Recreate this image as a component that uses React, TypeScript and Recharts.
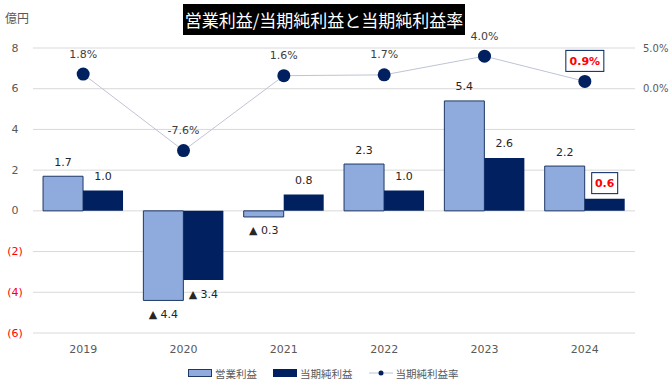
import React from "react";
import {
  ComposedChart,
  Bar,
  Line,
  XAxis,
  YAxis,
  CartesianGrid,
  LabelList,
} from "recharts";

const years = ["2019", "2020", "2021", "2022", "2023", "2024"];
const operatingProfit = [1.7, -4.4, -0.3, 2.3, 5.4, 2.2];
const netProfit = [1.0, -3.4, 0.8, 1.0, 2.6, 0.6];
const netMargin = [1.8, -7.6, 1.6, 1.7, 4.0, 0.9];
const leftTicks = [-6, -4, -2, 0, 2, 4, 6, 8];
const rightTicks = [0, 5];
const highlightYear = "2024";

const data = years.map((y, i) => ({
  year: y,
  op: operatingProfit[i],
  net: netProfit[i],
  rate: netMargin[i],
}));

const NUM_FONT = "'DejaVu Sans', Verdana, sans-serif";
const JP_FONT = "'Noto Sans CJK JP', 'Noto Sans', sans-serif";
const LIGHT = "#8FAADC";
const DARK = "#002060";
const GRAY = "#595959";

// 棒グラフのラベル（マイナスは▲表記で下側）
function barLabel(highlight: boolean) {
  return (props: any) => {
    const { x, y, width, height, value, index } = props;
    const top = Math.min(y, y + height);
    const bottom = Math.max(y, y + height);
    const cx = x + width / 2;
    if (value < 0) {
      return (
        <text x={cx} y={bottom + 14} textAnchor="middle" dominantBaseline="central"
          fontFamily={NUM_FONT} fontSize={11} fill="#262626">
          {`▲ ${Math.abs(value).toFixed(1)}`}
        </text>
      );
    }
    if (highlight && data[index].year === highlightYear) {
      return (
        <g>
          <rect x={cx - 13} y={top - 26} width={26} height={21} fill="#fff" stroke={DARK} strokeWidth={1} />
          <text x={cx} y={top - 15.5} textAnchor="middle" dominantBaseline="central"
            fontFamily={NUM_FONT} fontSize={11} fontWeight="bold" fill="#FF0000">
            {value.toFixed(1)}
          </text>
        </g>
      );
    }
    return (
      <text x={cx} y={top - 14} textAnchor="middle" dominantBaseline="central"
        fontFamily={NUM_FONT} fontSize={11} fill="#262626">
        {value.toFixed(1)}
      </text>
    );
  };
}

function rateLabel(props: any) {
  const { x, y, value, index } = props;
  if (data[index].year === highlightYear) {
    return (
      <g>
        <rect x={x - 19} y={y - 31} width={38} height={21} fill="#fff" stroke={DARK} strokeWidth={1} />
        <text x={x} y={y - 20} textAnchor="middle" dominantBaseline="central"
          fontFamily={NUM_FONT} fontSize={11} fontWeight="bold" fill="#FF0000">
          {`${value.toFixed(1)}%`}
        </text>
      </g>
    );
  }
  return (
    <text x={x} y={y - 20} textAnchor="middle" dominantBaseline="central"
      fontFamily={NUM_FONT} fontSize={11} fill="#404040">
      {`${value.toFixed(1)}%`}
    </text>
  );
}

function LeftTick(props: any) {
  const { y, payload } = props;
  const v = payload.value as number;
  return (
    <text x={15} y={y} textAnchor="middle" dominantBaseline="central"
      fontFamily={NUM_FONT} fontSize={11} fill={v < 0 ? "#FF0000" : GRAY}>
      {v < 0 ? `(${Math.abs(v)})` : `${v}`}
    </text>
  );
}

export default function App() {
  return (
    <div style={{ position: "relative", width: 672, height: 388, background: "#fff" }}>
      <style>{"body{margin:0}"}</style>
      <ComposedChart
        width={672}
        height={388}
        data={data}
        margin={{ top: 48, right: 0, left: 0, bottom: 25 }}
        barCategoryGap="10%"
        barGap={0}
      >
        <CartesianGrid yAxisId="left" vertical={false} stroke="#D9D9D9" />
        <XAxis
          dataKey="year"
          height={30}
          axisLine={false}
          tickLine={false}
          tickMargin={6}
          tick={{ fill: GRAY, fontSize: 11, fontFamily: NUM_FONT }}
        />
        <YAxis
          yAxisId="left"
          width={33}
          domain={[-6, 8]}
          ticks={leftTicks}
          axisLine={false}
          tickLine={false}
          tick={<LeftTick />}
          interval={0}
        />
        <YAxis
          yAxisId="right"
          orientation="right"
          width={37}
          domain={[-30, 5]}
          ticks={rightTicks}
          axisLine={false}
          tickLine={false}
          tickFormatter={(v: number) => `${v.toFixed(1)}%`}
          tick={{ fill: GRAY, fontSize: 10, fontFamily: NUM_FONT }}
        />
        <Bar yAxisId="left" dataKey="op" fill={LIGHT} stroke="#1F3864" strokeWidth={1} isAnimationActive={false}>
          <LabelList dataKey="op" content={barLabel(false)} />
        </Bar>
        <Bar yAxisId="left" dataKey="net" fill={DARK} isAnimationActive={false}>
          <LabelList dataKey="net" content={barLabel(true)} />
        </Bar>
        <Line
          yAxisId="right"
          dataKey="rate"
          stroke="#BFC4D6"
          strokeWidth={1}
          dot={{ r: 6.5, fill: DARK, stroke: DARK, strokeWidth: 0 }}
          activeDot={false}
          isAnimationActive={false}
        >
          <LabelList dataKey="rate" content={rateLabel} />
        </Line>
      </ComposedChart>

      <div style={{ position: "absolute", left: 5, top: 10, fontFamily: JP_FONT, fontSize: 12, color: GRAY, lineHeight: "16px" }}>
        億円
      </div>
      <div style={{
        position: "absolute", left: 183, top: 4, width: 282, height: 31, background: "#000",
        color: "#fff", fontFamily: JP_FONT, fontSize: 17, lineHeight: "31px", textAlign: "center",
      }}>
        営業利益/当期純利益と当期純利益率
      </div>

      <div style={{
        position: "absolute", left: 188, top: 365, height: 16, display: "flex",
        alignItems: "center", fontFamily: JP_FONT, fontSize: 10.5, color: GRAY, whiteSpace: "nowrap",
      }}>
        <span style={{ display: "inline-block", width: 22, height: 6, background: LIGHT, border: "1px solid #1F3864", marginRight: 3 }} />
        <span style={{ marginRight: 16 }}>営業利益</span>
        <span style={{ display: "inline-block", width: 24, height: 8, background: DARK, marginRight: 3 }} />
        <span style={{ marginRight: 16 }}>当期純利益</span>
        <svg width={24} height={10} style={{ marginRight: 3 }}>
          <line x1={0} y1={5} x2={24} y2={5} stroke="#BFC4D6" strokeWidth={1} />
          <circle cx={12} cy={5} r={2.5} fill={DARK} />
        </svg>
        <span>当期純利益率</span>
      </div>
    </div>
  );
}
